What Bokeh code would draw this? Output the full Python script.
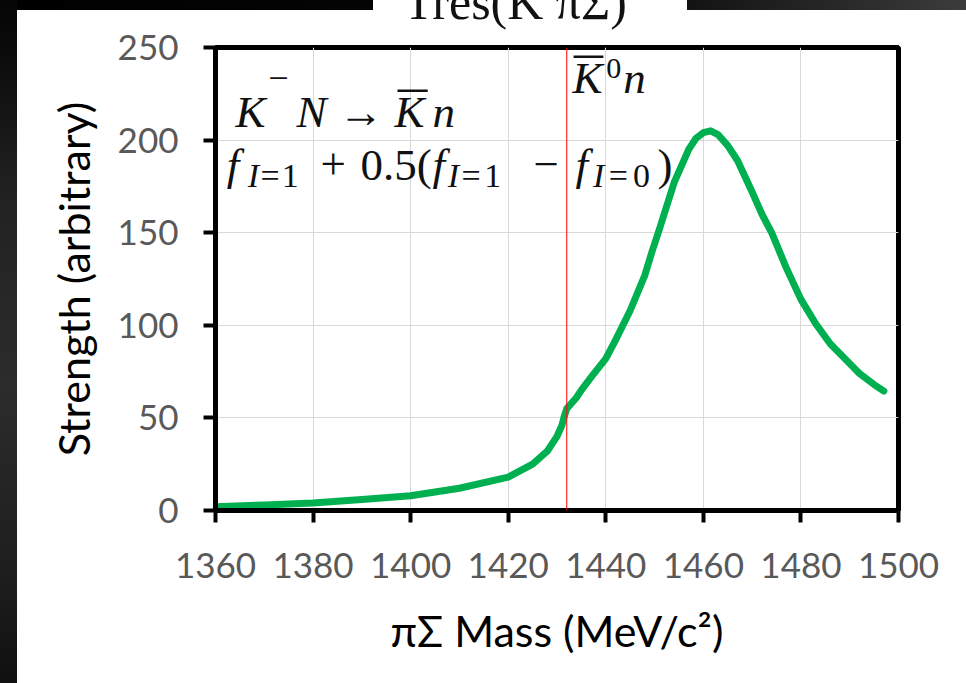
from bokeh.plotting import figure
from bokeh.models import Label, Span, BoxAnnotation
from bokeh.embed import file_html
from bokeh.resources import INLINE

# pi-Sigma invariant mass (MeV/c^2) and line-shape strength (arbitrary units)
mass = [1360, 1370, 1380, 1390, 1400, 1410, 1420, 1425, 1428, 1430, 1431, 1431.5,
        1432, 1434, 1435, 1437, 1440, 1442, 1445, 1448, 1449.5, 1451, 1454, 1457,
        1458.5, 1460, 1461.5, 1463, 1465, 1467, 1470, 1472, 1474, 1477, 1480, 1483,
        1486, 1489, 1492, 1495, 1497]
strength = [2, 3, 4, 6, 8, 12, 18, 25, 32, 40, 46, 51,
            55, 61, 65, 72, 82, 92, 108, 127, 140, 152, 177, 195,
            201, 204, 205, 203, 197, 189, 172, 160, 150, 131, 114, 101,
            90, 82, 74, 68, 64.5]

threshold_mass = 1432  # Kbar0 n threshold marker

x_ticks = [1360, 1380, 1400, 1420, 1440, 1460, 1480, 1500]
y_ticks = [0, 50, 100, 150, 200, 250]

# the canvas starts above the page top so the slide heading is cut off
SHIFT = 60
W, H = 966, 683 + SHIFT

# slide background: dark frame, white panel and white heading box
SLIDE_BG = ", ".join([
    f"linear-gradient(#ffffff, #ffffff) 17px {SHIFT + 10}px / 949px {H}px no-repeat",
    f"linear-gradient(#ffffff, #ffffff) 373px 0px / 314px {SHIFT + 10}px no-repeat",
    f"linear-gradient(to bottom, #000000 0%, #080808 12%, #222222 35%, #2c2c2c 60%, "
    f"#1e1e1e 85%, #101010 100%) 0px 0px / 17px {H}px no-repeat",
    f"linear-gradient(to right, #000000 0%, #050505 45%, #141414 72%, #2a2a2a 88%, "
    f"#3c3c3c 100%) 0px 0px / 966px {SHIFT + 10}px no-repeat",
])

p = figure(width=W, height=H, output_backend="svg", toolbar_location=None,
           x_range=(1360, 1500), y_range=(0, 250),
           min_border_left=215, min_border_right=68,
           min_border_top=47 + SHIFT, min_border_bottom=173,
           margin=(-SHIFT, 0, 0, 0))
p.styles = {"background": SLIDE_BG}
p.background_fill_color = "white"
p.border_fill_color = None
p.outline_line_color = "black"
p.outline_line_width = 5

p.title.text = "Tres(K πΣ)"
p.title.text_font = "Liberation Serif"
p.title.text_font_size = "50px"
p.title.text_font_style = "normal"
p.title.text_color = "#111111"
p.title.align = "left"
p.title.offset = 188
p.title.standoff = 35

p.xaxis.ticker = x_ticks
p.yaxis.ticker = y_ticks
for ax in (p.xaxis, p.yaxis):
    ax.axis_line_color = "black"
    ax.axis_line_width = 5
    ax.major_tick_line_color = "black"
    ax.major_tick_line_width = 4
    ax.major_tick_out = 12
    ax.major_tick_in = 0
    ax.minor_tick_line_color = None
    ax.major_label_text_font = "Lato"
    ax.major_label_text_font_size = "35px"
    ax.major_label_text_color = "#595959"
    ax.axis_label_text_font = "Lato"
    ax.axis_label_text_font_size = "43px"
    ax.axis_label_text_font_style = "normal"
    ax.axis_label_text_color = "black"

p.xaxis.axis_label = "πΣ Mass (MeV/c²)"
p.yaxis.axis_label = "Strength (arbitrary)"
p.xaxis.major_label_standoff = 30
p.xaxis.axis_label_standoff = 24
p.yaxis.major_label_standoff = 25
p.yaxis.axis_label_standoff = 16

p.grid.grid_line_color = "#d9d9d9"
p.grid.grid_line_width = 1

p.add_layout(Span(location=threshold_mass, dimension="height",
                  line_color="#ff0000", line_width=1))

p.line(mass, strength, line_color="#00b050", line_width=7,
       line_join="round", line_cap="round")

SERIF = "Liberation Serif"
MAIN, SUB = "45px", "34px"


def math_text(x, y, text, size=MAIN, italic=True):
    p.add_layout(Label(x=x, y=y, text=text, text_font=SERIF,
                       text_font_size=size,
                       text_font_style="italic" if italic else "normal",
                       text_color="#111111", text_baseline="alphabetic"))


def overbar(left, right, y_top, y_bottom):
    p.add_layout(BoxAnnotation(left=left, right=right, top=y_top, bottom=y_bottom,
                               fill_color="#111111", fill_alpha=1, line_color=None))


def isospin_sub(x_i, x_eq, x_val, y, val):
    math_text(x_i, y, "I", size=SUB)
    math_text(x_eq, y, "=", size=SUB, italic=False)
    math_text(x_val, y, val, size=SUB, italic=False)


# K^- N -> Kbar n
math_text(1364.1, 215.3, "K")
math_text(1370.8, 233.5, "−", size="36px", italic=False)
math_text(1376.6, 215.3, "N")
math_text(1385.2, 215.3, "→", italic=False)
math_text(1396.7, 215.3, "K")
overbar(1397.3, 1403.5, 227.3, 226.0)
math_text(1404.5, 215.3, "n")

# f_{I=1} + 0.5(f_{I=1} - f_{I=0})
math_text(1362.3, 186.7, "f")
isospin_sub(1366.6, 1369.2, 1373.6, 180.7, "1")
math_text(1381.5, 186.7, "+", italic=False)
math_text(1389.7, 186.7, "0.5(", italic=False)
math_text(1404.5, 186.7, "f")
isospin_sub(1407.6, 1410.4, 1415.1, 180.7, "1")
math_text(1425.2, 186.7, "−", italic=False)
math_text(1433.8, 186.7, "f")
isospin_sub(1437.4, 1440.6, 1445.6, 180.7, "0")
math_text(1450.6, 186.7, ")", italic=False)

# Kbar^0 n
math_text(1433.2, 233.7, "K")
overbar(1433.4, 1439.5, 245.7, 244.3)
math_text(1440.1, 238.4, "0", size="30px", italic=False)
math_text(1443.6, 233.7, "n")

open("out.html", "w").write(file_html(p, INLINE))
